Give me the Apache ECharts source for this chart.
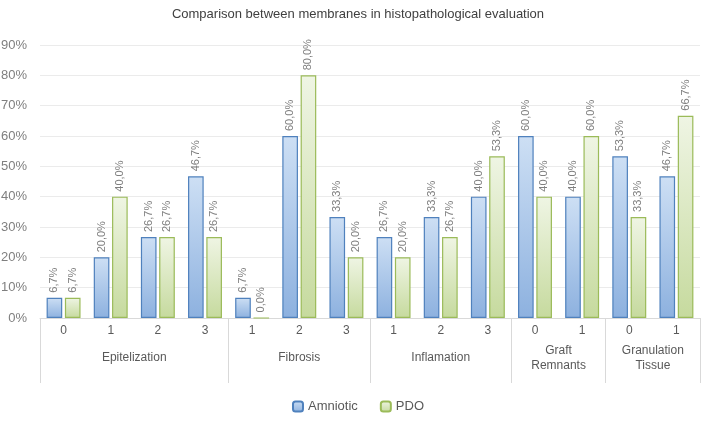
<!DOCTYPE html>
<head>
    <meta charset="utf-8"/>
    <style>
        html, body { margin: 0; height: 100%; background: #fff; }
        #main { width: 716px; height: 426px; }
    </style>
    <script src="https://cdn.jsdelivr.net/npm/echarts@6/dist/echarts.min.js"></script>
</head>
<body>
<div id="main"></div>
<script type="text/javascript">
 // sub categories (14 bar pairs) and their groups
 var subCats = ['0', '1', '2', '3', '1', '2', '3', '1', '2', '3', '0', '1', '0', '1'];
 var groups = ['Epitelization', 'Fibrosis', 'Inflamation', 'Graft\nRemnants', 'Granulation\nTissue'];
 var groupSizes = [4, 3, 3, 2, 2];
 var amniotic = [6.7, 20.0, 26.7, 46.7, 6.7, 60.0, 33.3, 26.7, 33.3, 40.0, 60.0, 40.0, 53.3, 46.7];
 var pdo = [6.7, 40.0, 26.7, 26.7, 0.0, 80.0, 20.0, 20.0, 26.7, 53.3, 40.0, 60.0, 33.3, 66.7];

 // group boundaries and centers on a 0..14 value axis
 var bounds = [0], centers = [];
 groupSizes.forEach(function (n) {
     var s = bounds[bounds.length - 1];
     centers.push(s + n / 2);
     bounds.push(s + n);
 });

 function pct(v) { return v.toFixed(1).replace('.', ',') + '%'; }

 function grad(top, bottom) {
     return new echarts.graphic.LinearGradient(0, 0, 0, 1, [
         {offset: 0, color: top}, {offset: 1, color: bottom}
     ]);
 }

 var labelStyle = {
     show: true,
     position: 'top',
     rotate: 90,
     align: 'left',
     verticalAlign: 'middle',
     distance: 5,
     color: '#7f7f7f',
     fontSize: 11,
     formatter: function (p) { return pct(p.value); }
 };

 var myChart = echarts.init(document.getElementById('main'));
 var options = {
     textStyle: {fontFamily: 'Liberation Sans'},
     title: {
         text: 'Comparison between membranes in histopathological evaluation',
         left: 'center',
         top: 3,
         textStyle: {fontSize: 13, fontWeight: 'normal', color: '#404040'}
     },
     legend: {
         bottom: 8,
         left: 'center',
         itemWidth: 10,
         itemHeight: 10,
         itemGap: 22,
         textStyle: {fontSize: 13, color: '#595959'},
         data: ['Amniotic', 'PDO']
     },
     grid: {left: 40, right: 16, top: 45, bottom: 108, outerBoundsMode: 'none'},
     xAxis: [{
         type: 'category',
         data: subCats,
         axisLine: {lineStyle: {color: '#d9d9d9'}},
         axisTick: {show: false},
         axisLabel: {color: '#595959', fontSize: 12, margin: 7}
     }, {
         type: 'value',
         position: 'bottom',
         min: 0,
         max: 14,
         splitLine: {show: false},
         axisLine: {show: false},
         axisTick: {
             show: true,
             customValues: bounds,
             length: 65,
             lineStyle: {color: '#d9d9d9'}
         },
         axisLabel: {
             customValues: centers,
             margin: 40,
             color: '#595959',
             fontSize: 12,
             lineHeight: 15,
             verticalAlign: 'middle',
             formatter: function (v) {
                 var i = centers.indexOf(v);
                 return i >= 0 ? groups[i] : '';
             }
         }
     }],
     yAxis: {
         type: 'value',
         min: 0,
         max: 90,
         interval: 10,
         axisLine: {show: false},
         axisTick: {show: false},
         axisLabel: {color: '#7f7f7f', fontSize: 13, margin: 13, formatter: '{value}%'},
         splitLine: {lineStyle: {color: '#ebebeb'}}
     },
     series: [{
         name: 'Amniotic',
         type: 'bar',
         barGap: '17%',
         barCategoryGap: '28%',
         itemStyle: {
             color: grad('#cddff4', '#8db1df'),
             borderColor: '#4f81bd',
             borderWidth: 1.2
         },
         label: labelStyle,
         data: amniotic
     }, {
         name: 'PDO',
         type: 'bar',
         itemStyle: {
             color: grad('#eff5e4', '#c6da9e'),
             borderColor: '#9bbb59',
             borderWidth: 1.2
         },
         label: labelStyle,
         data: pdo
     }]
 };
 myChart.setOption(options);
</script>
</body>
